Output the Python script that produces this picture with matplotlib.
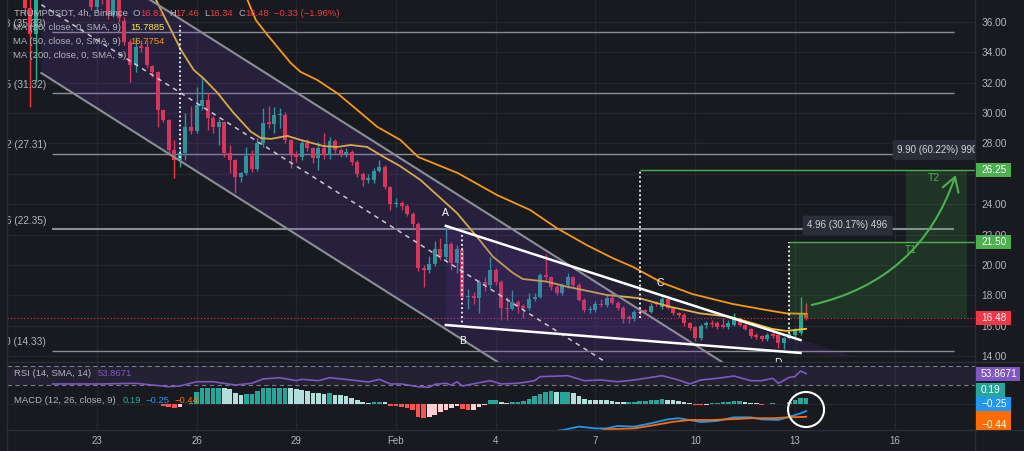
import matplotlib
matplotlib.use('Agg')
import matplotlib.pyplot as plt
import matplotlib.dates as mdates
from matplotlib.patches import Rectangle, Ellipse, FancyArrowPatch, Polygon
from matplotlib.transforms import IdentityTransform, Bbox, offset_copy
from matplotlib.lines import Line2D
import numpy as np
import pandas as pd

plt.rcParams['font.family'] = ['Liberation Sans', 'DejaVu Sans']

# ---- candles, 4h TRUMPUSDT (oldest first, last bar = 2025-02-13 08:00) ----
opens = [39.0, 36.9, 35.2, 38.5, 39.5, 40.2, 39.4, 38.6, 39.3, 38.9, 38.3, 38.7, 38.4, 37.0, 38.0, 37.6, 36.46, 37.5, 36.1, 34.7,
         33.17, 34.42, 34.35, 33.1, 32.71, 30.21, 29.55, 27.57, 26.91, 27.37, 29.09, 28.82, 30.45, 30.87, 29.68, 29.08, 29.4, 27.37, 26.91, 25.79,
         26.06, 27.17, 26.32, 28.03, 29.4, 29.3, 29.87, 29.9, 28.23, 27.3, 27.1, 28.03, 27.7, 27.04, 27.7, 27.24, 28.16, 27.57, 27.3, 27.45,
         26.78, 26.0, 25.6, 25.6, 26.2, 26.45, 25.13, 24.0, 24.1, 23.85, 23.36, 22.7, 19.8, 19.67, 20.06, 21.05, 20.52, 21.37, 20.13, 21.0,
         17.89, 17.96, 17.85, 18.87, 18.67, 19.67, 18.87, 17.16, 17.1, 17.55, 17.3, 17.16, 17.76, 17.89, 19.34, 19.2, 18.54, 18.15, 18.67, 19.2,
         18.67, 17.7, 17.03, 17.03, 17.42, 17.36, 17.82, 17.5, 17.16, 16.57, 16.44, 16.9, 17.03, 16.9, 17.5, 17.2, 17.76, 17.16, 16.83, 16.7,
         16.17, 15.9, 15.19, 16.04, 16.17, 16.17, 16.04, 15.9, 16.04, 16.5, 16.04, 15.78, 15.38, 15.32, 15.12, 15.45, 15.38, 14.86, 15.19, 15.38,
         15.5, 16.81]
highs = [39.5, 37.6, 39.0, 40.5, 41.0, 40.8, 39.8, 39.9, 39.7, 39.2, 39.1, 39.0, 38.9, 38.4, 38.3, 37.8, 38.0, 37.6, 36.3, 34.9,
         35.0, 34.8, 34.8, 33.2, 32.8, 30.3, 29.6, 28.2, 27.77, 30.0, 30.5, 31.7, 32.38, 31.3, 29.8, 29.6, 29.45, 27.9, 27.0, 26.12,
         27.77, 27.57, 28.36, 30.35, 30.5, 30.4, 30.35, 30.05, 28.3, 27.5, 28.23, 28.3, 27.8, 28.1, 28.7, 28.4, 28.3, 27.7, 27.7, 27.6,
         26.9, 26.1, 26.0, 26.4, 26.9, 26.6, 25.2, 24.4, 24.2, 24.0, 23.5, 22.8, 20.0, 20.6, 21.6, 21.8, 22.5, 21.5, 21.3, 21.2,
         18.4, 18.2, 19.0, 19.2, 20.5, 19.8, 19.0, 17.9, 18.35, 17.7, 17.4, 18.15, 18.15, 19.5, 20.7, 19.3, 18.7, 18.8, 19.5, 19.3,
         18.8, 17.8, 17.3, 17.6, 17.75, 18.0, 18.2, 17.6, 17.3, 16.7, 17.0, 17.1, 17.1, 17.5, 17.6, 17.9, 17.9, 17.2, 16.9, 16.8,
         16.25, 16.0, 16.1, 16.3, 16.4, 16.3, 16.5, 16.37, 16.83, 16.6, 16.1, 15.85, 15.5, 15.4, 15.5, 15.55, 15.45, 15.25, 15.6, 15.85,
         17.9, 17.46]
lows = [36.5, 30.4, 32.05, 38.0, 39.0, 38.8, 38.1, 38.2, 38.3, 37.9, 37.8, 37.9, 36.8, 36.7, 37.2, 36.2, 36.3, 36.0, 34.5, 32.05,
        32.7, 34.0, 33.0, 32.4, 29.1, 29.4, 27.24, 25.72, 26.45, 26.9, 28.6, 28.7, 30.2, 28.9, 28.7, 27.9, 27.1, 26.05, 24.74, 25.47,
        25.9, 26.1, 26.2, 27.8, 29.0, 28.7, 29.0, 28.0, 26.38, 26.8, 26.9, 27.5, 26.7, 26.25, 27.0, 27.0, 27.37, 27.1, 27.1, 26.6,
        25.8, 25.2, 25.4, 25.4, 26.1, 25.0, 23.6, 23.8, 23.6, 23.2, 22.5, 19.6, 18.54, 19.5, 19.9, 20.3, 20.3, 19.67, 19.5, 17.7,
        17.1, 17.4, 16.8, 18.3, 18.5, 18.7, 16.37, 16.37, 17.0, 16.8, 16.5, 17.0, 17.6, 17.8, 19.0, 18.35, 18.0, 18.0, 18.5, 18.5,
        17.6, 16.9, 16.8, 16.9, 17.2, 17.2, 17.4, 17.0, 16.2, 16.2, 16.3, 16.7, 16.8, 16.8, 17.3, 17.1, 17.1, 16.7, 16.6, 16.0,
        15.7, 15.0, 15.05, 15.85, 15.9, 15.8, 15.85, 15.8, 15.95, 15.95, 15.7, 15.2, 15.1, 15.0, 15.0, 15.2, 14.53, 14.46, 15.1, 15.25,
        15.4, 16.34]
closes = [36.9, 35.2, 38.5, 39.5, 40.2, 39.4, 38.6, 39.3, 38.9, 38.3, 38.7, 38.4, 37.0, 38.0, 37.6, 36.46, 37.5, 36.25, 34.7, 33.17,
          34.35, 34.29, 33.17, 32.71, 30.21, 29.55, 27.57, 26.91, 27.37, 29.09, 28.82, 30.54, 30.87, 29.68, 29.08, 29.4, 27.37, 26.91, 25.79, 26.06,
          27.17, 26.32, 28.03, 29.35, 29.3, 29.87, 29.95, 28.23, 27.3, 27.1, 28.03, 27.7, 27.04, 27.7, 27.24, 28.16, 27.57, 27.3, 27.45, 26.78,
          26.0, 25.6, 25.7, 26.2, 26.45, 25.13, 24.0, 24.1, 23.85, 23.36, 22.7, 19.8, 19.67, 20.06, 21.05, 20.52, 21.37, 20.13, 21.05, 17.89,
          17.96, 17.85, 18.87, 18.67, 19.67, 18.87, 17.16, 17.1, 17.55, 17.3, 17.16, 17.76, 17.89, 19.34, 19.2, 18.54, 18.15, 18.67, 19.2, 18.67,
          17.7, 17.03, 17.1, 17.42, 17.36, 17.82, 17.5, 17.16, 16.44, 16.44, 16.9, 16.8, 16.9, 17.29, 17.4, 17.76, 17.16, 16.83, 16.7, 16.17,
          15.84, 15.19, 15.97, 16.17, 16.1, 15.9, 15.9, 16.17, 16.57, 16.04, 15.78, 15.32, 15.25, 15.12, 15.38, 15.32, 14.86, 15.19, 15.45, 15.71,
          16.83, 16.48]

# moving averages, sampled (bars before the last candle)
ma20_ago = [119, 117.3, 114.6, 112.8, 110.5, 108.8, 106.2, 103.3, 100.2, 98.4, 96.6, 93.6, 91.2, 87.1, 84.6, 82.2, 79.2, 76.3, 73.3, 69.6,
            66.6, 63.0, 59.4, 56.5, 52.9, 51.1, 46.8, 43.2, 39.6, 36.0, 31.8, 30.0, 24.6, 19.2, 13.8, 9.7, 6.1, 3.6, 0]
ma20 = [38.5, 37.45, 35.48, 34.16, 32.84, 32.31, 31.33, 30.01, 28.78, 28.36, 28.30, 28.50, 28.23, 27.83, 27.77, 27.90, 27.77, 27.13, 26.52, 25.60,
        24.61, 23.42, 21.86, 20.54, 19.47, 19.07, 18.90, 18.57, 18.30, 18.02, 17.87, 17.80, 17.25, 16.81, 16.59, 16.17, 15.78, 15.65, 15.79]
ma50_ago = [101.5, 100.8, 99.3, 97.2, 95.7, 93.0, 91.2, 88.2, 84.6, 81.0, 77.4, 73.2, 70.0, 62.9, 55.8, 49.8, 45.0, 39.6, 34.9, 31.3,
            25.9, 20.5, 13.3, 7.2, 3.6, 0]
ma50 = [38.0, 37.45, 36.13, 35.15, 34.49, 33.30, 32.71, 32.18, 31.31, 30.21, 29.10, 28.23, 27.11, 26.06, 24.61, 23.62, 22.43, 21.31, 20.45, 19.88,
        18.81, 18.08, 17.43, 17.03, 16.81, 16.78]

# RSI (14), sampled
rsi_ago = [136, 127, 121, 115, 113, 110, 107, 103, 100, 98, 95, 92, 91, 88, 86, 82, 79, 77, 75, 73,
           70, 68, 67, 65, 64, 63, 62, 59, 57, 55, 52, 49, 48, 43, 40, 37, 34, 31, 26, 23,
           21, 19, 16, 13, 10, 8, 6, 5, 3, 2, 1, 0]
rsi = [32.7, 32.7, 34.1, 27.1, 28.6, 37.3, 37.3, 30.6, 34.1, 42.9, 45.5, 39.4, 42.2, 39.4, 45.5, 40.8, 36.7, 42.2, 32.7, 32.7,
       27.1, 25.9, 32.0, 34.1, 30.6, 37.3, 28.6, 35.3, 39.4, 32.7, 34.1, 39.4, 47.6, 49.6, 39.4, 40.8, 37.3, 40.8, 49.6, 40.8,
       32.7, 40.8, 44.3, 49.0, 39.4, 39.4, 44.3, 34.1, 46.3, 47.6, 59.2, 53.87]

# MACD histogram for the last 118 bars
hist = [-0.02, -0.07, -0.13, -0.14, -0.12, -0.03, 0.01, 0.39, 0.58, 0.62,
        0.64, 0.65, 0.60, 0.47, 0.36, 0.27, 0.32, 0.33, 0.43, 0.53,
        0.58, 0.62, 0.65, 0.66, 0.60, 0.47, 0.44, 0.41, 0.36, 0.34,
        0.33, 0.35, 0.30, 0.27, 0.24, 0.19, 0.11, 0.06, 0.02, 0.04,
        0.06, 0.04, -0.07, -0.09, -0.11, -0.14, -0.20, -0.44, -0.48, -0.44,
        -0.37, -0.29, -0.20, -0.14, -0.09, -0.18, -0.22, -0.20, -0.11, -0.06,
        0.11, 0.13, 0.04, 0.02, 0.04, 0.06, 0.09, 0.16, 0.24, 0.33,
        0.39, 0.41, 0.38, 0.39, 0.40, 0.36, 0.24, 0.16, 0.12, 0.115,
        0.11, 0.105, 0.10, 0.06, 0.045, 0.05, 0.06, 0.07, 0.08, 0.11,
        0.13, 0.155, 0.13, 0.11, 0.08, 0.045, 0.02, -0.045, -0.055, -0.035,
        0.01, 0.025, 0.035, 0.055, 0.075, 0.08, 0.045, 0.025, 0.005, -0.035,
        -0.015, 0.01, -0.025, -0.008, 0.045, 0.11, 0.17, 0.19]
macd_ago = [46, 43, 41, 38, 36, 34, 31, 28, 25, 23, 21, 19, 16, 13, 10, 8, 5, 3, 1, 0]
macd = [-0.95, -0.85, -0.77, -0.83, -0.83, -0.75, -0.77, -0.66, -0.53, -0.49, -0.55, -0.62, -0.58, -0.46, -0.46, -0.53, -0.55, -0.44, -0.33, -0.25]
signal_ago = [38, 36, 31, 28, 24, 21, 17, 13, 10, 6, 3, 1, 0]
signal = [-0.95, -0.86, -0.83, -0.74, -0.61, -0.55, -0.55, -0.52, -0.49, -0.49, -0.46, -0.45, -0.44]

fib_ratio = ['0.618', '0.5', '0.382', '0.236', '0']
fib_price = [35.33, 31.32, 27.31, 22.35, 14.33]

date_ticks = ['2025-01-23', '2025-01-26', '2025-01-29', '2025-02-01', '2025-02-04',
              '2025-02-07', '2025-02-10', '2025-02-13', '2025-02-16']
date_labels = ['23', '26', '29', 'Feb', '4', '7', '10', '13', '16']

BG = '#181a1f'
GRID = '#23262d'
TXT = '#b2b5be'
UP = '#22ab94'
DOWN = '#f23645'
GREEN = '#4caf50'
PURPLE = '#673ab7'

W, H = 1024, 451
fig = plt.figure(figsize=(W / 100, H / 100), dpi=100, facecolor=BG)


def box(x0, y0, x1, y1):
    return [x0 / W, 1 - y1 / H, (x1 - x0) / W, (y1 - y0) / H]


ax = fig.add_axes(box(7, 0, 975, 361.5))
ax_rsi = fig.add_axes(box(7, 361.5, 975, 388), sharex=ax)
ax_macd = fig.add_axes(box(7, 388, 975, 430), sharex=ax)


def tn(s):
    return mdates.date2num(pd.Timestamp(s))


last = pd.Timestamp('2025-02-13 08:00')
times = pd.date_range(end=last, periods=len(closes), freq='4h')
xs = mdates.date2num(times.to_pydatetime())
x_last = mdates.date2num(last)


def ago(a):
    return x_last - np.asarray(a, float) / 6


x0 = tn('2025-01-23')
ax.set_xlim(x0 - 2.70, x0 + 26.415)
ax.set_ylim(13.637, 37.452)

for a in (ax, ax_rsi, ax_macd):
    a.set_facecolor(BG)
    a.set_axisbelow(True)
    for s in a.spines.values():
        s.set_visible(False)
    a.set_xticks([tn(d) for d in date_ticks])
    a.grid(axis='x', color=GRID, lw=1)
    a.tick_params(length=0)
ax_macd.set_xticklabels(date_labels)
ax.tick_params(labelbottom=False)
ax_rsi.tick_params(labelbottom=False)
ax_macd.tick_params(axis='x', labelsize=7, labelcolor=TXT, pad=4.5)

# price scale: the 26.00 label sits under the 26.25 tag, so it is hidden
ax.yaxis.tick_right()
ax.set_yticks(np.arange(14, 37, 2))
ax.yaxis.set_major_formatter(matplotlib.ticker.FuncFormatter(
    lambda v, pos: '' if abs(v - 26) < 0.01 else f'{v:.2f}'))
ax.tick_params(axis='y', labelsize=7.3, labelcolor=TXT, pad=4.5)
ax.grid(axis='y', color=GRID, lw=1)
ax_rsi.set_yticks([])
ax_macd.set_yticks([])

# fib levels
f_t0, f_t1 = tn('2025-01-21 16:00'), tn('2025-02-17 19:00')
lab_tr = offset_copy(ax.transData, fig=fig, x=-6.4, y=3.5, units='dots')
for r, p in zip(fib_ratio, fib_price):
    ax.hlines(p, f_t0, f_t1, color='#8a8d95', lw=1.5 if r == '0.236' else 1, zorder=1)
    ax.text(f_t0, p, f'{r} ({p:.2f})', transform=lab_tr, ha='right', va='bottom',
            fontsize=7.3, color=TXT, clip_on=True, zorder=6)

ax.axhline(closes[-1], color=DOWN, lw=0.8, ls=(0, (1, 2)), zorder=1.5)

# candles
o, hi, lo, c = (np.array(v) for v in (opens, highs, lows, closes))
col = np.where(c >= o, UP, DOWN)
ax.vlines(xs, lo, hi, colors=col, lw=1, zorder=2)
ax.bar(xs, np.maximum(np.abs(c - o), 0.05), bottom=np.minimum(o, c), width=0.12,
       color=col, lw=0, zorder=2)

ax.plot(ago(ma20_ago), ma20, color='#efc830', lw=1.3, zorder=2.5)
ax.plot(ago(ma50_ago), ma50, color='#f29a16', lw=1.3, zorder=2.5)

# descending channel
ch_t = [tn('2025-01-21 08:00'), tn('2025-02-15 00:00')]
ch_up, ch_mid, ch_lo = [42.0, 7.79], [37.14, 2.93], [32.64, -1.57]
ax.fill_between(ch_t, ch_lo, ch_up, color=PURPLE, alpha=0.2, lw=0, zorder=3)
ax.plot(ch_t, ch_up, color='#8c8e96', lw=1.5, zorder=4)
ax.plot(ch_t, ch_lo, color='#8c8e96', lw=1.5, zorder=4)
ax.plot(ch_t, ch_mid, color='#c8cad0', lw=1.1, ls=(0, (3, 3)), zorder=4)

# falling wedge
w_t = [tn('2025-02-02 12:00'), tn('2025-02-13 04:00')]
w_top, w_bot = [22.57, 15.05], [16.04, 14.20]
ax.add_patch(Polygon([(w_t[0], w_top[0]), (tn('2025-02-14 19:00'), 13.93), (w_t[0], w_bot[0])],
                     closed=True, color=PURPLE, alpha=0.14, lw=0, zorder=3))
ax.plot(w_t, w_top, color='white', lw=1.8, zorder=4)
ax.plot(w_t, w_bot, color='white', lw=1.8, zorder=4)
for s, t, p in [('A', '2025-02-02 12:00', 23.45), ('B', '2025-02-03 00:00', 15.0),
                ('C', '2025-02-08 23:00', 18.81), ('D', '2025-02-12 12:00', 13.55)]:
    ax.text(tn(t), p, s, color='white', fontsize=7.5, ha='center', va='center', clip_on=True, zorder=6)

# measurement lines
v_t = [tn('2025-01-25 12:00'), tn('2025-02-03 00:00'), tn('2025-02-08 08:00'), tn('2025-02-12 20:00')]
ax.vlines(v_t, [27.04, 15.91, 16.5, 15.19], [35.94, 22.1, 26.25, 21.5], colors='white',
          linestyles=(0, (1, 1.5)), lw=1.3, zorder=4)
ax.hlines([26.25, 21.5], [v_t[2], v_t[3]], x0 + 27, color=GREEN, lw=1, zorder=4)
r_t1 = tn('2025-02-18 04:00')
ax.add_patch(Rectangle((v_t[3], 16.48), r_t1 - v_t[3], 21.5 - 16.48, color=GREEN, alpha=0.17, lw=0, zorder=3))
r_tb = tn('2025-02-16 08:00')
ax.add_patch(Rectangle((r_tb, 21.5), r_t1 - r_tb, 26.25 - 21.5, color=GREEN, alpha=0.17, lw=0, zorder=3))

bb = dict(boxstyle='round,pad=0.5,rounding_size=0.25', fc='#2a2e39', ec='none')
ax.text(tn('2025-02-14 14:00'), 22.6, '4.96 (30.17%) 496', ha='center', va='center',
        fontsize=7, color='#d1d4dc', bbox=bb, zorder=6)
ax.text(tn('2025-02-16 02:00'), 27.57, '9.90 (60.22%) 990', ha='left', va='center',
        fontsize=7, color='#d1d4dc', bbox=bb, clip_on=True, zorder=6)
ax.text(tn('2025-02-17 04:00'), 25.73, 'T2', color=GREEN, fontsize=7.5, ha='center', va='center', zorder=6)
ax.text(tn('2025-02-16 12:00'), 20.98, 'T1', color=GREEN, fontsize=7.5, ha='center', va='center', zorder=6)
ax.add_patch(FancyArrowPatch((tn('2025-02-13 12:00'), 17.36), (tn('2025-02-17 20:00'), 25.92),
                             connectionstyle='arc3,rad=0.28', arrowstyle='->,head_length=0.5,head_width=0.3',
                             mutation_scale=20, color=GREEN, lw=1.5, shrinkA=0, shrinkB=0, zorder=6))

# RSI pane
ax_rsi.set_ylim(24.49, 78.57)
ax_rsi.axhspan(30, 70, color='#7e57c2', alpha=0.12, lw=0)
for lvl in (70, 30):
    ax_rsi.axhline(lvl, color='#787b86', lw=0.8, ls=(0, (4, 3)))
ax_rsi.plot(ago(rsi_ago), rsi, color='#7e57c2', lw=1.2)

# MACD pane
ax_macd.set_ylim(-0.883, 0.517)
ax_macd.axhline(0, color=GRID, lw=1, zorder=0)
hcol = []
for i, v in enumerate(hist):
    prev = hist[i - 1] if i else v
    if v >= 0:
        hcol.append('#26a69a' if v >= prev else '#b2dfdb')
    else:
        hcol.append('#ff5252' if v <= prev else '#ffcdd2')
ax_macd.bar(xs[-len(hist):], hist, width=0.14, color=hcol, lw=0, zorder=2)
ax_macd.plot(ago(macd_ago), macd, color='#2196f3', lw=1.3, zorder=3)
ax_macd.plot(ago(signal_ago), signal, color='#ff6d00', lw=1.3, zorder=3)
ax_macd.add_patch(Ellipse((tn('2025-02-13 08:00'), -0.2), 1.083, 1.167, fill=False,
                          ec='white', lw=1.5, clip_on=False, zorder=5))

# pane separators
sep = '#2a2e39'
for y in (361.5, 430):
    fig.add_artist(Line2D([7 / W, 1], [1 - y / H] * 2, color=sep, lw=1))
for x in (7, 975):
    fig.add_artist(Line2D([x / W] * 2, [0, 1], color=sep, lw=1))


# price-scale tags
def tag(yd, text, color, width, clip=False):
    fig.add_artist(Rectangle((975.5, yd - 7), width, 14, transform=IdentityTransform(),
                             color=color, lw=0, zorder=5))
    t = fig.text(981 / W, yd / H, text, color='white', fontsize=7.3, ha='left', va='center', zorder=6)
    if clip:
        t.set_clip_box(Bbox.from_extents(975, 21, 1024, 451))
        t.set_clip_on(True)


tag(ax.transData.transform((0, 26.25))[1], '26.25', GREEN, 35)
tag(ax.transData.transform((0, 21.50))[1], '21.50', GREEN, 35)
tag(ax.transData.transform((0, closes[-1]))[1], f'{closes[-1]:.2f}', DOWN, 35)
tag(ax_rsi.transData.transform((0, rsi[-1]))[1], '53.8671', '#7e57c2', 44)
tag(H - 389.7, '0.19', '#26a69a', 29)
tag(H - 403.7, '\u22120.25', '#2196f3', 35)
fig.add_artist(Rectangle((975.5, H - 430), 35, 19.3, transform=IdentityTransform(),
                         color='#ff6d00', lw=0, zorder=5))
tag(H - 425, '\u22120.44', '#ff6d00', 0, clip=True)


# legends
def chain(x, y, parts, size=6.8):
    r = fig.canvas.get_renderer()
    for s, color, gap in parts:
        t = fig.text(x / W, 1 - y / H, s, color=color, fontsize=size, ha='left', va='center', zorder=8)
        x += t.get_window_extent(r).width + gap


chain(14, 13.5, [('TRUMPUSDT, 4h, Binance', TXT, 5), ('O', TXT, 0), (f'{opens[-1]:.2f}', DOWN, 5),
                 ('H', TXT, 0), (f'{highs[-1]:.2f}', DOWN, 5), ('L', TXT, 0), (f'{lows[-1]:.2f}', DOWN, 5),
                 ('C', TXT, 0), (f'{closes[-1]:.2f}', DOWN, 5), ('\u22120.33 (\u22121.96%)', DOWN, 0)])
chain(13, 27.5, [('MA (20, close, 0, SMA, 9)', TXT, 9), ('15.7885', '#ffeb3b', 0)])
chain(13, 41.5, [('MA (50, close, 0, SMA, 9)', TXT, 9), ('16.7754', '#ff9800', 0)])
chain(13, 56, [('MA (200, close, 0, SMA, 9)', TXT, 0)])
chain(13.5, 373, [('RSI (14, SMA, 14)', TXT, 7), ('53.8671', '#7e57c2', 0)])
chain(13.5, 400.7, [('MACD (12, 26, close, 9)', TXT, 7), ('0.19', '#26a69a', 5),
                    ('\u22120.25', '#2196f3', 5), ('\u22120.44', '#ff6d00', 0)])

fig.savefig('out.png', dpi=100, facecolor=BG)
